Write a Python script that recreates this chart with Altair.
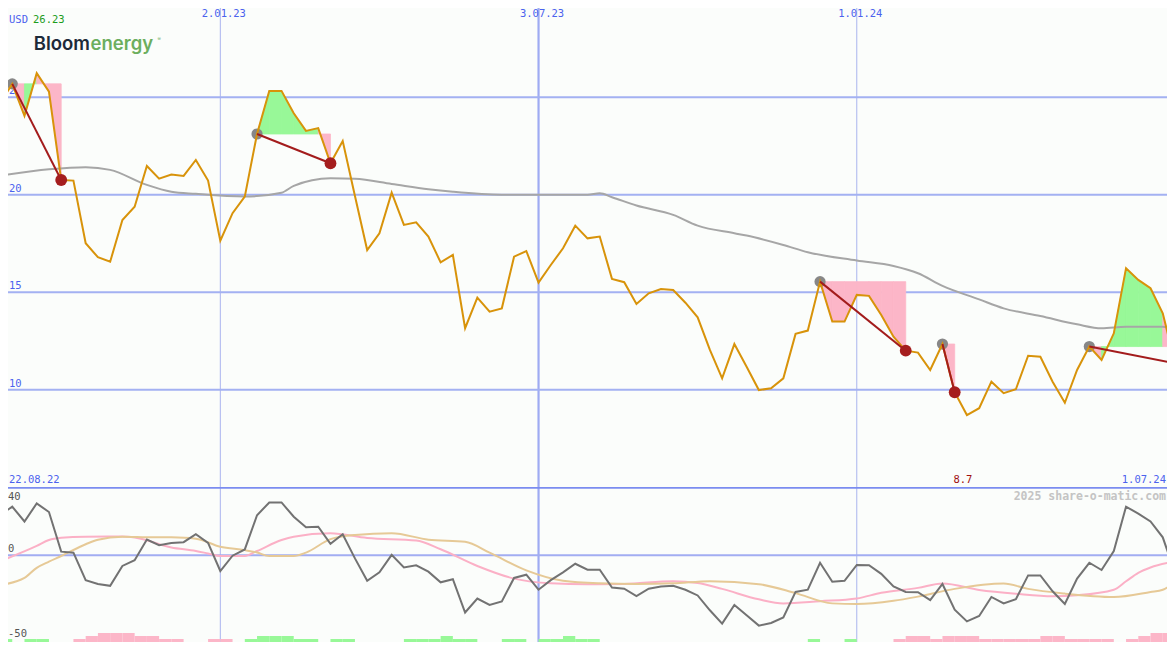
import altair as alt
import pandas as pd

# ---------------- data ----------------
START = "2022-08-29"
N_WEEKS = 97
dates = [d.strftime("%Y-%m-%d") for d in pd.date_range(START, periods=N_WEEKS, freq="7D")]

price = [24.69, 25.68, 24.04, 26.23, 25.28, 20.75, 20.72, 17.51, 16.79, 16.56,
         18.70, 19.38, 21.47, 20.82, 21.03, 20.96, 21.78, 20.72, 17.64, 19.05,
         19.90, 23.11, 25.32, 25.32, 24.17, 23.27, 23.41, 21.61, 22.75, 19.93,
         17.16, 18.02, 20.10, 18.45, 18.58, 17.85, 16.53, 16.91, 13.15, 14.72,
         14.00, 14.17, 16.82, 17.11, 15.49, 16.39, 17.25, 18.41, 17.76, 17.85,
         15.68, 15.51, 14.39, 14.94, 15.16, 15.11, 14.46, 13.71, 12.04, 10.58,
         12.34, 11.18, 9.98, 10.07, 10.58, 12.86, 13.03, 15.54, 13.49, 13.49,
         14.86, 14.81, 13.83, 12.72, 12.00, 11.90, 11.01, 12.34, 9.87, 8.70,
         9.05, 10.41, 9.82, 10.02, 11.74, 11.69, 10.41, 9.33, 11.01, 12.21,
         11.52, 12.89, 16.23, 15.63, 15.20, 13.92, 11.35]

ma_idx = [0, 4, 7, 9, 12, 14, 16, 20, 23, 24, 27, 29, 32, 35, 37, 41, 48, 49, 50,
          52, 55, 57, 60, 61, 64, 66, 70, 73, 75, 77, 80, 82, 85, 88, 90, 92, 95, 96]
ma_val = [20.97, 21.30, 21.41, 21.27, 20.50, 20.15, 20.04, 19.90, 20.10, 20.45,
          20.84, 20.81, 20.55, 20.28, 20.15, 20.00, 20.00, 20.07, 19.87, 19.44,
          18.96, 18.41, 18.02, 17.90, 17.42, 17.05, 16.62, 16.34, 15.97, 15.32,
          14.63, 14.17, 13.78, 13.35, 13.15, 13.23, 13.23, 13.10]

osc = [23.7, 28.8, 20.0, 30.7, 25.6, 2.1, 1.5, -14.8, -17.1, -18.2,
       -6.4, -3.0, 9.3, 5.9, 7.2, 7.7, 12.4, 7.3, -9.4, -0.3,
       3.4, 23.7, 31.3, 31.3, 22.8, 16.6, 16.9, 6.8, 12.4, -1.9,
       -15.2, -10.2, 0.2, -7.3, -6.0, -9.8, -16.1, -14.3, -34.0, -25.7,
       -29.5, -27.4, -13.5, -11.6, -20.5, -14.8, -10.2, -5.1, -8.6, -8.6,
       -19.2, -19.9, -24.3, -19.9, -18.6, -18.1, -20.5, -23.9, -32.7, -40.6,
       -29.5, -35.6, -41.8, -40.2, -37.0, -21.8, -20.5, -4.5, -15.8, -15.2,
       -5.8, -6.0, -11.1, -18.6, -21.8, -22.0, -26.7, -17.1, -32.3, -39.3,
       -36.1, -24.8, -28.6, -26.1, -12.0, -12.0, -21.4, -29.0, -13.9, -4.5,
       -8.8, 2.5, 28.8, 24.7, 20.0, 10.6, -10.5]

pink_idx = [0, 3, 4, 5, 7, 10, 11, 14, 16, 17, 18, 20, 21, 23, 24, 27, 30, 34, 36, 39,
            42, 45, 48, 51, 55, 57, 59, 62, 64, 67, 70, 72, 75, 77, 80, 83, 86, 88, 91,
            92, 93, 94, 96]
pink_val = [-3.6, 5.5, 9.0, 10.3, 11.0, 11.1, 10.5, 4.6, 2.5, 1.0, -0.5, -0.5, 2.5, 9.0,
            11.0, 13.0, 10.2, 8.7, 3.5, -6.4, -13.9, -16.7, -17.3, -17.1, -15.4, -16.5,
            -20.0, -26.2, -28.6, -27.3, -25.7, -22.3, -19.4, -16.8, -20.6, -22.9, -24.4,
            -23.8, -20.5, -15.5, -10.5, -7.3, -3.8]

tan_idx = [0, 2, 3, 4, 5, 7, 8, 10, 12, 14, 16, 18, 20, 21, 22, 24, 25, 27, 29, 32, 35,
           38, 40, 43, 46, 49, 52, 55, 58, 62, 65, 68, 70, 73, 75, 78, 82, 84, 87, 91,
           94, 95, 96]
tan_val = [-17.7, -13.5, -7.5, -3.8, -0.5, 6.5, 9.2, 11.0, 10.7, 10.6, 9.8, 5.0, 3.0,
           1.6, -0.5, -0.5, 1.5, 9.5, 12.0, 13.0, 9.2, 8.0, 1.5, -9.0, -15.2, -16.7,
           -17.1, -16.7, -15.4, -17.2, -22.5, -28.6, -29.0, -27.1, -24.6, -20.0, -16.8,
           -20.0, -22.8, -24.8, -21.8, -20.5, -15.8]

# weekly signal strength (+ green, - pink)
bars = [1, 0, 1, 1, 0, 0, -1, -2, -3, -3,
        -3, -2, -2, -1, -1, 0, 0, -1, -1, 0,
        1, 2, 2, 2, 1, 1, 0, 1, 1, 0,
        0, 0, 0, 1, 1, 1, 2, 1, 1, 0,
        0, 1, 1, 0, 1, 1, 2, 1, 1, 0,
        0, 0, 0, 0, 0, 0, 0, 0, 0, 0,
        0, 0, 0, 0, 0, 0, 1, 0, 0, 1,
        0, 0, 0, -1, -2, -2, -1, -2, -2, -2,
        -1, -1, -1, -1, -1, -2, -2, -1, -1, -1,
        -1, 0, -1, -2, -3, -3]

entries = [1, 21, 67, 77, 89]
exits = [5, 27, 74, 78, 96]

grid_prices = [10, 15, 20, 25]
vgrid_dates = ["2023-01-02", "2023-07-03", "2024-01-01"]
vgrid_labels = ["2.01.23", "3.07.23", "1.01.24"]
vgrid_width = [1, 2.2, 1]
vgrid_color = ["#aab4ee", "#9eabf2", "#aab4ee"]

# ---------------- styling ----------------
BG = "#fbfdfb"
GRID = "#a3b1f2"
BLUE_TXT = "#4b62ee"
GREEN = "#98f898"
PINK = "#fcb6c8"
ORANGE = "#d8930a"
DARKRED = "#a31c1c"
MONO = "DejaVu Sans Mono"

W = 1159
H_TOP = 479
H_BOT = 155

PX_PER_DAY = 1175 / 672
t0 = pd.Timestamp(START)
x_start = t0 + pd.Timedelta(days=8 / PX_PER_DAY)
x_end = t0 + pd.Timedelta(days=1167 / PX_PER_DAY)


def ms(t):
    return int(t.value // 10**6)


xs = alt.Scale(type="utc", domain=[ms(x_start), ms(x_end)])
ys_top = alt.Scale(domain=[5.01, 29.57], zero=False, nice=False)
ys_bot = alt.Scale(domain=[-51.52, 40.46], zero=False, nice=False)
ys_bar = alt.Scale(domain=[0, H_BOT / 3], zero=False, nice=False)


def X(f="date"):
    return alt.X(f"{f}:T", scale=xs, axis=None)


def YT(f):
    return alt.Y(f, scale=ys_top, axis=None)


def YB(f):
    return alt.Y(f, scale=ys_bot, axis=None)


# ---------------- tables ----------------
df_price = pd.DataFrame({"date": dates, "price": price})
df_ma = pd.DataFrame({"date": [dates[i] for i in ma_idx], "v": ma_val})
df_hgrid = pd.DataFrame({"v": grid_prices, "lab": [str(v) for v in grid_prices]})
df_vgrid = pd.DataFrame({"date": vgrid_dates, "lab": vgrid_labels, "w": vgrid_width, "c": vgrid_color})

fill_rows = []
for k, (e, x) in enumerate(zip(entries, exits)):
    lvl = price[e]
    for i in range(e, x):
        col = "up" if price[i + 1] > lvl else "down"
        for j in (i, i + 1):
            fill_rows.append(dict(seg=f"{k}-{i}", date=dates[j], price=price[j], entry=lvl, col=col))
df_fill = pd.DataFrame(fill_rows)

df_trades = pd.DataFrame({
    "d0": [dates[e] for e in entries], "p0": [price[e] for e in entries],
    "d1": [dates[x] for x in exits], "p1": [price[x] for x in exits],
})
low_i = min(range(len(price)), key=lambda i: price[i])
df_low = pd.DataFrame({"date": [dates[low_i]], "lab": [f"{price[low_i]:.1f}"]})

df_osc = pd.DataFrame({"date": dates, "v": osc})
df_pink = pd.DataFrame({"date": [dates[i] for i in pink_idx], "v": pink_val})
df_tan = pd.DataFrame({"date": [dates[i] for i in tan_idx], "v": tan_val})
df_bars = pd.DataFrame([
    dict(date=dates[i], date2=dates[i + 1], h=abs(b), h0=0, col="up" if b > 0 else "down")
    for i, b in enumerate(bars) if b != 0
])

ud_scale = alt.Scale(domain=["up", "down"], range=[GREEN, PINK])
color_ud = alt.Color("col:N", scale=ud_scale, legend=None)
stroke_ud = alt.Stroke("col:N", scale=ud_scale, legend=None)

# ---------------- top panel ----------------
hgrid = alt.Chart(df_hgrid).mark_rule(color=GRID, strokeWidth=2, clip=True).encode(y=YT("v:Q"))
vgrid = alt.Chart(df_vgrid).mark_rule(clip=True).encode(
    x=X(), color=alt.Color("c:N", scale=None),
    strokeWidth=alt.StrokeWidth("w:Q", scale=None, legend=None))
vgrid_txt = alt.Chart(df_vgrid).mark_text(font=MONO, fontSize=10.5, color=BLUE_TXT,
                                          align="center", baseline="alphabetic", dx=3.5).encode(
    x=X(), y=alt.value(9), text="lab:N")
hgrid_txt = alt.Chart(df_hgrid).mark_text(font=MONO, fontSize=10.5, color=BLUE_TXT,
                                          align="left", baseline="bottom", dy=-1).encode(
    x=alt.value(1), y=YT("v:Q"), text="lab:N")

fills = alt.Chart(df_fill).mark_area(clip=True, opacity=1, strokeWidth=0.8).encode(
    x=X(), y=alt.Y("price:Q", scale=ys_top, stack=None, axis=None), y2="entry:Q",
    color=color_ud, stroke=stroke_ud, detail="seg:N")
ma_line = alt.Chart(df_ma).mark_line(color="#a6a6a6", strokeWidth=2, interpolate="monotone", clip=True).encode(
    x=X(), y=YT("v:Q"))
entry_pts = alt.Chart(df_trades).mark_circle(color="#878787", size=125, opacity=1, clip=True).encode(
    x=X("d0"), y=YT("p0:Q"))
price_line = alt.Chart(df_price).mark_line(color=ORANGE, strokeWidth=2, clip=True).encode(
    x=X(), y=YT("price:Q"))
trade_lines = alt.Chart(df_trades).mark_rule(color=DARKRED, strokeWidth=2, clip=True).encode(
    x=X("d0"), x2="d1:T", y=YT("p0:Q"), y2="p1:Q")
exit_pts = alt.Chart(df_trades).mark_circle(color="#a51e1e", size=140, opacity=1, clip=True).encode(
    x=X("d1"), y=YT("p1:Q"))


def label(txt, x, y, **kw):
    return alt.Chart(pd.DataFrame({"t": [txt]})).mark_text(**kw).encode(
        x=alt.value(x), y=alt.value(y), text="t:N")


usd = label("USD", 1, 12, font=MONO, fontSize=10.5, color=BLUE_TXT, align="left", baseline="middle")
last_px = label(f"{max(price):.2f}", 25, 12, font=MONO, fontSize=10.5, color="#1c9c1c",
                align="left", baseline="middle")
logo1 = label("Bloom", 82, 42, font="Inter", fontSize=18.5, fontWeight=600, color="#1d2a39",
              align="right", baseline="alphabetic")
logo2 = label("energy", 82.5, 42, font="Inter", fontSize=18.5, fontWeight=600, color="#6cae5e",
              align="left", baseline="alphabetic")
logo3 = label("®", 149.5, 33, font="Inter", fontSize=5, color="#6cae5e", align="left",
              baseline="alphabetic")
start_lab = label("22.08.22", 1, 475, font=MONO, fontSize=10.5, color=BLUE_TXT, align="left",
                  baseline="alphabetic")
end_lab = label("1.07.24", W - 1, 475, font=MONO, fontSize=10.5, color=BLUE_TXT, align="right",
                baseline="alphabetic")
low_lab = alt.Chart(df_low).mark_text(
    font=MONO, fontSize=10.5, color="#a01010", align="center", baseline="alphabetic", dx=-4).encode(
    x=X(), y=alt.value(475), text="lab:N")

top = alt.layer(
    vgrid, hgrid, hgrid_txt, fills, ma_line, entry_pts, price_line, trade_lines, exit_pts,
    vgrid_txt, usd, last_px, logo1, logo2, logo3, start_lab, end_lab, low_lab,
).properties(width=W, height=H_TOP)

# ---------------- bottom panel ----------------
vgrid_b = alt.Chart(df_vgrid).mark_rule(clip=True).encode(
    x=X(), color=alt.Color("c:N", scale=None),
    strokeWidth=alt.StrokeWidth("w:Q", scale=None, legend=None))
zero_line = alt.Chart(pd.DataFrame({"v": [0]})).mark_rule(color="#a2adf2", strokeWidth=2, clip=True).encode(
    y=YB("v:Q"))
sep_line = alt.Chart(pd.DataFrame({"v": [40.0]})).mark_rule(color="#7b8cf0", strokeWidth=2, clip=True).encode(
    y=YB("v:Q"))
bar_marks = alt.Chart(df_bars).mark_rect(clip=True).encode(
    x=X(), x2="date2:T", y=alt.Y("h:Q", scale=ys_bar, axis=None), y2="h0:Q",
    color=color_ud)
pink_line = alt.Chart(df_pink).mark_line(color="#fbb0c6", strokeWidth=2, interpolate="monotone", clip=True).encode(
    x=X(), y=YB("v:Q"))
tan_line = alt.Chart(df_tan).mark_line(color="#e6c996", strokeWidth=2, interpolate="monotone", clip=True).encode(
    x=X(), y=YB("v:Q"))
osc_line = alt.Chart(df_osc).mark_line(color="#727272", strokeWidth=2, clip=True).encode(
    x=X(), y=YB("v:Q"))


def low_label(v, baseline, dy):
    return alt.Chart(pd.DataFrame({"v": [v], "lab": [str(v)]})).mark_text(
        font=MONO, fontSize=10.5, color="#555555", align="left", baseline=baseline, dy=dy).encode(
        x=alt.value(0), y=YB("v:Q"), text="lab:N")


lab40 = low_label(40, "top", 4)
lab0 = low_label(0, "bottom", -1)
lab50 = low_label(-50, "bottom", 0)
credit = label("2025 share-o-matic.com", W - 1, 13, font=MONO, fontSize=11.5, fontWeight="bold",
               color="#c4c4c4", align="right", baseline="alphabetic")

bottom = alt.layer(
    vgrid_b, zero_line, bar_marks, pink_line, tan_line, osc_line, lab40, lab0, lab50, credit, sep_line,
).resolve_scale(y="independent").properties(width=W, height=H_BOT)

chart = alt.vconcat(top, bottom, spacing=0, bounds="flush").properties(
    background=BG, padding=0
).configure_view(stroke=None)

chart.save("out.html", embed_options={"renderer": "svg", "actions": False})
